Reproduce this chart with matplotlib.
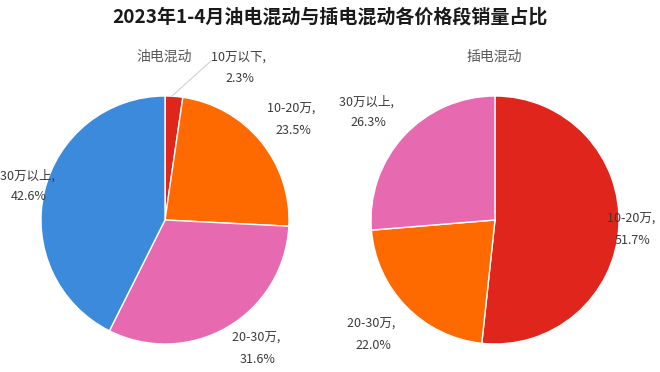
import numpy as np
import matplotlib
matplotlib.use('Agg')
import matplotlib.pyplot as plt

plt.rcParams['font.family'] = ['Noto Sans CJK SC', 'DejaVu Sans']

# data
title = '2023年1-4月油电混动与插电混动各价格段销量占比'
left_name = '油电混动'
left_cats = ['10万以下', '10-20万', '20-30万', '30万以上']
left_vals = [2.3, 23.5, 31.6, 42.6]
right_name = '插电混动'
right_cats = ['10-20万', '20-30万', '30万以上']
right_vals = [51.7, 22.0, 26.3]

cat_colors = {'10万以下': '#E0251C', '10-20万': '#FF6A00',
              '20-30万': '#E76AB1', '30万以上': '#3C8ADB'}
right_colors = {'10-20万': '#E0251C', '20-30万': '#FF6A00', '30万以上': '#E76AB1'}

W, H = 660, 372
fig = plt.figure(figsize=(W / 100, H / 100), dpi=100)
ax = fig.add_axes([0, 0, 1, 1])

def py(y):
    # image y (from top) -> data y
    return H - y

# pies: center and radius in pixels
left_c, right_c, r = (165, 220), (495, 220), 124

ax.pie(left_vals, colors=[cat_colors[c] for c in left_cats],
       center=(left_c[0], py(left_c[1])), radius=r, startangle=90,
       counterclock=False, wedgeprops=dict(edgecolor='white', linewidth=1))
ax.pie(right_vals, colors=[right_colors[c] for c in right_cats],
       center=(right_c[0], py(right_c[1])), radius=r, startangle=90,
       counterclock=False, wedgeprops=dict(edgecolor='white', linewidth=1))

ax.set_xlim(0, W)
ax.set_ylim(0, H)
ax.set_aspect('auto')
ax.set_axis_off()

# label placement (pixel centres, from top-left)
left_pos = [(240, 68), (293, 119.5), (258, 349), (29, 186)]
right_pos = [(633, 229.5), (373, 335), (368, 112)]

lab_kw = dict(ha='center', va='center', fontsize=9, color='#3a3a3a',
              linespacing=1.8, zorder=5)
for cat, v, (x, y) in zip(left_cats, left_vals, left_pos):
    ax.text(x, py(y), f'{cat}, \n{v:.1f}%', **lab_kw)
for cat, v, (x, y) in zip(right_cats, right_vals, right_pos):
    ax.text(x, py(y), f'{cat}, \n{v:.1f}%', **lab_kw)

# leader line for the small slice
ax.plot([211, 172], [py(61), py(96)], color='#D0D0D0', lw=0.8, zorder=4)

ax.text(164, py(57), left_name, ha='center', va='center', fontsize=10, color='#595959')
ax.text(494, py(57), right_name, ha='center', va='center', fontsize=10, color='#595959')

fig.text(0.5, 1 - 17 / H, title, ha='center', va='center', fontsize=13.7,
         fontweight='bold', color='#1a1a1a')

fig.savefig('out.png', dpi=100)
